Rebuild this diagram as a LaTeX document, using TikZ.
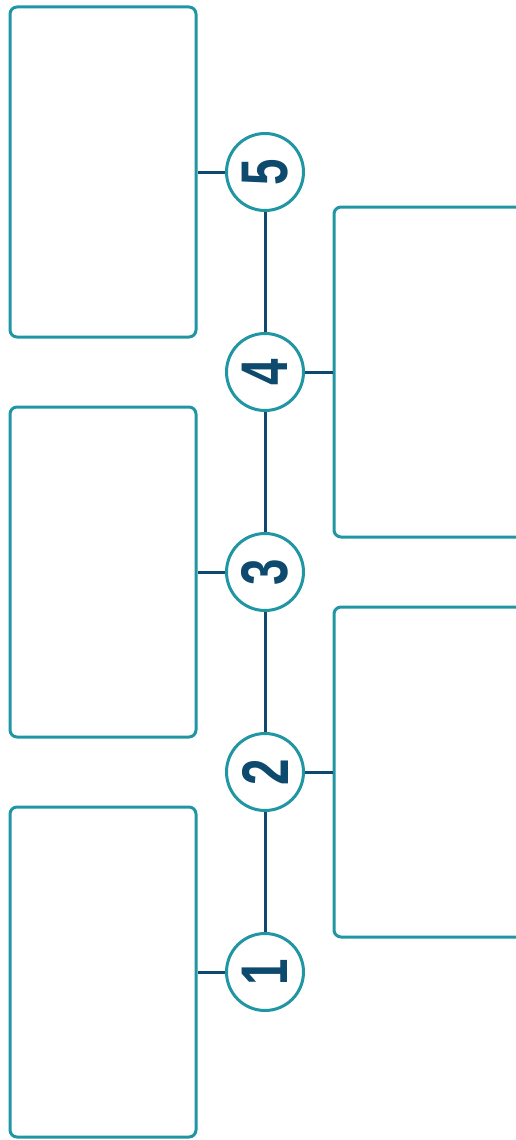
\documentclass[tikz,border=0pt]{standalone}
\usepackage{fontspec}
\setmainfont{Liberation Sans}
\definecolor{ringteal}{HTML}{2196A3}
\definecolor{stepnavy}{HTML}{0D4A6E}
\newcommand{\stepnum}[1]{\scalebox{0.72}[1]{\fontsize{66}{66}\selectfont\bfseries #1}}
\begin{document}
\begin{tikzpicture}[x=1pt,y=-1pt,
  card/.style={draw=ringteal, line width=3pt, rounded corners=7pt, inner sep=0pt,
    minimum width=186pt, minimum height=330pt},
  wide card/.style={card, minimum width=220pt},
  ring/.style={circle, draw=ringteal, line width=3pt, fill=white, inner sep=0pt,
    minimum size=77pt, text=stepnavy, rotate=90},
  link/.style={draw=stepnavy, line width=3pt}]
\useasboundingbox (0,0) rectangle (516,1140);

\node[card] (c5) at (103,172) {};
\node[card] (c3) at (103,572) {};
\node[card] (c1) at (103,972) {};
\node[wide card] (c4) at (444,372) {};
\node[wide card] (c2) at (444,772) {};

\node[ring] (n5) at (265,172) {\stepnum{5}};
\node[ring] (n4) at (265,372) {\stepnum{4}};
\node[ring] (n3) at (265,572) {\stepnum{3}};
\node[ring] (n2) at (265,772) {\stepnum{2}};
\node[ring] (n1) at (265,972) {\stepnum{1}};

\draw[link] (n5) -- (n4);
\draw[link] (n4) -- (n3);
\draw[link] (n3) -- (n2);
\draw[link] (n2) -- (n1);

\draw[link] (c5.east) -- (n5);
\draw[link] (c3.east) -- (n3);
\draw[link] (c1.east) -- (n1);
\draw[link] (c4.west) -- (n4);
\draw[link] (c2.west) -- (n2);
\end{tikzpicture}
\end{document}
